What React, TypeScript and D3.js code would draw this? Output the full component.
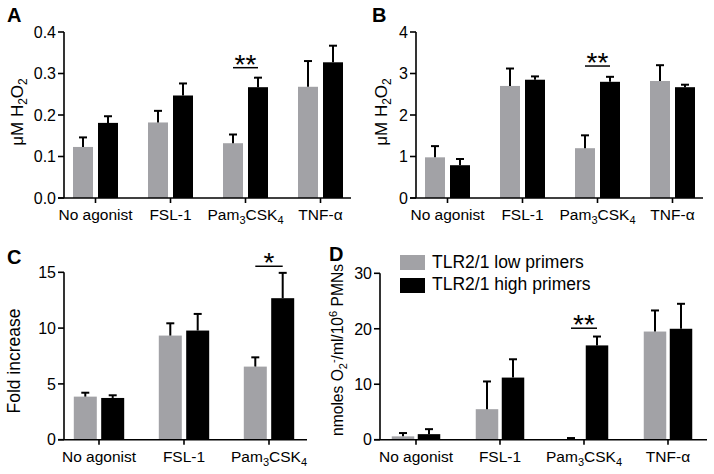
import React from "react";
import * as d3 from "d3";

const catsFour = ["No agonist", "FSL-1", "Pam3CSK4", "TNF-α"];
const catsThree = ["No agonist", "FSL-1", "Pam3CSK4"];

// panel A: H2O2 (low primers / high primers), mean and SEM
const lowA = [0.123, 0.182, 0.132, 0.268];
const lowErrA = [0.023, 0.028, 0.021, 0.062];
const highA = [0.181, 0.247, 0.267, 0.327];
const highErrA = [0.016, 0.029, 0.023, 0.04];

// panel B
const lowB = [0.98, 2.7, 1.2, 2.82];
const lowErrB = [0.27, 0.42, 0.31, 0.38];
const highB = [0.79, 2.85, 2.8, 2.67];
const highErrB = [0.15, 0.08, 0.12, 0.06];

// panel C: fold increase
const lowC = [3.86, 9.33, 6.55];
const lowErrC = [0.35, 1.1, 0.83];
const highC = [3.74, 9.78, 12.68];
const highErrC = [0.24, 1.49, 2.27];

// panel D: superoxide
const lowD = [0.6, 5.5, 0.05, 19.5];
const lowErrD = [0.6, 5.0, 0.25, 3.8];
const highD = [1.0, 11.2, 17.0, 20.0];
const highErrD = [0.9, 3.3, 1.6, 4.5];

const ticksA = [0, 0.1, 0.2, 0.3, 0.4];
const ticksB = [0, 1, 2, 3, 4];
const ticksC = [0, 5, 10, 15];
const ticksD = [0, 10, 20, 30];

const legendLabels = ["TLR2/1 low primers", "TLR2/1 high primers"];

const GRAY = "#a2a2a6";
const FONT = "'Liberation Sans', Arial, Helvetica, sans-serif";

function CatLabel({ name, x, y }: { name: string; x: number; y: number }) {
  if (name === "Pam3CSK4") {
    return (
      <text x={x} y={y} textAnchor="middle" fontSize={15.5}>
        Pam<tspan fontSize={11} dy={4}>3</tspan>
        <tspan dy={-4}>CSK</tspan>
        <tspan fontSize={11} dy={4}>4</tspan>
      </text>
    );
  }
  return (
    <text x={x} y={y} textAnchor="middle" fontSize={15.5}>
      {name}
    </text>
  );
}

type PanelProps = {
  letter: string;
  letterX: number;
  letterY: number;
  cats: string[];
  low: number[];
  lowErr: number[];
  high: number[];
  highErr: number[];
  yMax: number;
  ticks: number[];
  fmt: (v: number) => string;
  axisX: number;
  axisEnd: number;
  yZero: number;
  yTop: number;
  bandStart: number;
  step: number;
  barW: number;
  offset: number;
  sigIndex: number;
  sigY: number;
  stars: string;
  ylabel: React.ReactNode;
};

function Panel(p: PanelProps) {
  const y = d3.scaleLinear().domain([0, p.yMax]).range([p.yZero, p.yTop]);
  const x = d3
    .scaleBand()
    .domain(p.cats)
    .range([p.bandStart, p.bandStart + p.step * p.cats.length])
    .padding(0);
  const center = (c: string) => (x(c) ?? 0) + x.bandwidth() / 2;

  const bar = (cx: number, v: number, e: number, fill: string, key: string) => (
    <g key={key}>
      <rect x={cx - p.barW / 2} y={y(v)} width={p.barW} height={p.yZero - y(v)} fill={fill} />
      <line x1={cx} x2={cx} y1={y(v)} y2={y(v + e)} stroke="#000" strokeWidth={2} />
      <line x1={cx - 4} x2={cx + 4} y1={y(v + e)} y2={y(v + e)} stroke="#000" strokeWidth={2} />
    </g>
  );

  const sc = center(p.cats[p.sigIndex]);
  return (
    <g fontFamily={FONT}>
      <text x={p.letterX} y={p.letterY} fontSize={20} fontWeight="bold">
        {p.letter}
      </text>
      {p.ylabel}
      {p.cats.map((c, i) => (
        <g key={c}>
          {bar(center(c) - p.offset, p.low[i], p.lowErr[i], GRAY, "l")}
          {bar(center(c) + p.offset, p.high[i], p.highErr[i], "#000", "h")}
        </g>
      ))}
      <line x1={p.axisX} x2={p.axisX} y1={p.yZero} y2={p.yTop} stroke="#000" strokeWidth={1.6} />
      <line x1={p.axisX - 6} x2={p.axisEnd} y1={p.yZero} y2={p.yZero} stroke="#000" strokeWidth={1.6} />
      {p.ticks.map((t) => (
        <g key={t}>
          <line x1={p.axisX - 6} x2={p.axisX} y1={y(t)} y2={y(t)} stroke="#000" strokeWidth={1.6} />
          <text x={p.axisX - 8} y={y(t)} dy="0.36em" textAnchor="end" fontSize={16}>
            {p.fmt(t)}
          </text>
        </g>
      ))}
      {p.cats.map((c) => (
        <g key={c}>
          <line x1={center(c)} x2={center(c)} y1={p.yZero} y2={p.yZero + 5} stroke="#000" strokeWidth={1.6} />
          <CatLabel name={c} x={center(c)} y={p.yZero + 22} />
        </g>
      ))}
      <line
        x1={sc - p.offset}
        x2={sc + p.offset}
        y1={y(p.sigY)}
        y2={y(p.sigY)}
        stroke="#000"
        strokeWidth={1.5}
      />
      <text x={sc} y={y(p.sigY) + 6} textAnchor="middle" fontSize={28}>
        {p.stars}
      </text>
    </g>
  );
}

function H2O2Label({ x, y }: { x: number; y: number }) {
  return (
    <text transform={`translate(${x},${y}) rotate(-90)`} textAnchor="middle" fontSize={17} fontFamily={FONT}>
      μM H<tspan fontSize={12} dy={4}>2</tspan>
      <tspan dy={-4}>O</tspan>
      <tspan fontSize={12} dy={4}>2</tspan>
    </text>
  );
}

export default function App() {
  const f1 = d3.format(".1f");
  const f0 = d3.format("d");
  return (
    <div style={{ position: "absolute", left: 0, top: 0 }}>
      <svg width={714} height={474} style={{ display: "block", background: "#fff" }}>
        <Panel
          letter="A"
          letterX={7}
          letterY={22}
          cats={catsFour}
          low={lowA}
          lowErr={lowErrA}
          high={highA}
          highErr={highErrA}
          yMax={0.4}
          ticks={ticksA}
          fmt={f1}
          axisX={64}
          axisEnd={351}
          yZero={198}
          yTop={32}
          bandStart={58}
          step={75}
          barW={20}
          offset={12.5}
          sigIndex={2}
          sigY={0.314}
          stars="**"
          ylabel={<H2O2Label x={23} y={112} />}
        />
        <Panel
          letter="B"
          letterX={372}
          letterY={22}
          cats={catsFour}
          low={lowB}
          lowErr={lowErrB}
          high={highB}
          highErr={highErrB}
          yMax={4}
          ticks={ticksB}
          fmt={f0}
          axisX={416}
          axisEnd={703}
          yZero={198}
          yTop={32}
          bandStart={410}
          step={75}
          barW={20}
          offset={12.5}
          sigIndex={2}
          sigY={3.18}
          stars="**"
          ylabel={<H2O2Label x={387} y={112} />}
        />
        <Panel
          letter="C"
          letterX={7}
          letterY={264}
          cats={catsThree}
          low={lowC}
          lowErr={lowErrC}
          high={highC}
          highErr={highErrC}
          yMax={15}
          ticks={ticksC}
          fmt={f0}
          axisX={64}
          axisEnd={307}
          yZero={439.7}
          yTop={272.3}
          bandStart={56.5}
          step={85}
          barW={23}
          offset={13.7}
          sigIndex={2}
          sigY={15.54}
          stars="*"
          ylabel={
            <text
              transform="translate(20,361) rotate(-90)"
              textAnchor="middle"
              fontSize={17.5}
              fontFamily={FONT}
            >
              Fold increase
            </text>
          }
        />
        <Panel
          letter="D"
          letterX={329}
          letterY={261}
          cats={catsFour}
          low={lowD}
          lowErr={lowErrD}
          high={highD}
          highErr={highErrD}
          yMax={30}
          ticks={ticksD}
          fmt={f0}
          axisX={380}
          axisEnd={707}
          yZero={439.7}
          yTop={273.3}
          bandStart={374}
          step={84}
          barW={22.5}
          offset={13}
          sigIndex={2}
          sigY={20.1}
          stars="**"
          ylabel={
            <text
              transform="translate(343,350) rotate(-90)"
              textAnchor="middle"
              fontSize={15.6}
              fontFamily={FONT}
            >
              nmoles O<tspan fontSize={11} dy={4}>2</tspan>
              <tspan fontSize={11} dy={-10}>-</tspan>
              <tspan dy={6}>/ml/10</tspan>
              <tspan fontSize={11} dy={-6}>6</tspan>
              <tspan dy={6}> PMNs</tspan>
            </text>
          }
        />
        <g fontFamily={FONT}>
          {legendLabels.map((l, i) => (
            <g key={l}>
              <rect x={400} y={255 + i * 23} width={25} height={15} fill={i === 0 ? GRAY : "#000"} />
              <text x={432} y={268 + i * 22} fontSize={17.5}>
                {l}
              </text>
            </g>
          ))}
        </g>
      </svg>
    </div>
  );
}
